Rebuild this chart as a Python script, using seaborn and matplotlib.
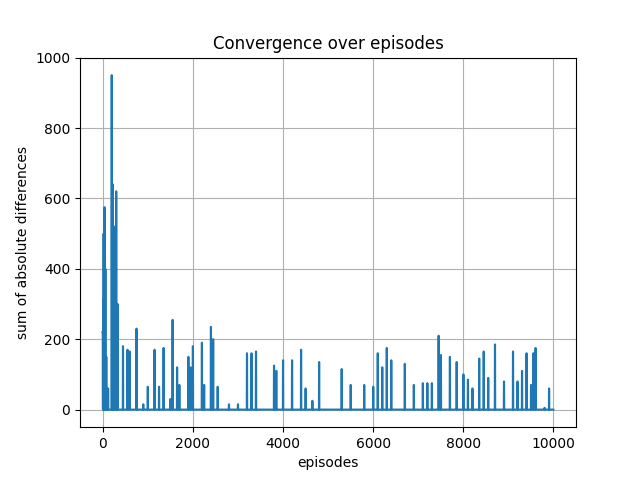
import numpy as np
import pandas as pd
import matplotlib
matplotlib.use("Agg")
import matplotlib.pyplot as plt
import seaborn as sns

n_episodes = 10000
spike_episodes = [0, 10, 20, 40, 60, 80, 120, 200, 220, 250, 300, 330, 450, 550, 600, 750, 900, 1000,
                  1150, 1250, 1350, 1500, 1550, 1650, 1700, 1900, 1950, 2000, 2200, 2250, 2400, 2450,
                  2550, 2800, 3000, 3200, 3300, 3400, 3800, 3850, 4000, 4200, 4400, 4500, 4650, 4800,
                  5300, 5500, 5800, 6000, 6100, 6200, 6300, 6400, 6700, 6900, 7100, 7200, 7300, 7450,
                  7500, 7700, 7850, 8000, 8100, 8200, 8350, 8450, 8550, 8700, 8900, 9100, 9200, 9300,
                  9400, 9500, 9550, 9600, 9800, 9900]
spike_heights = [220, 310, 500, 575, 400, 150, 60, 950, 640, 520, 620, 300, 180, 170, 165, 230, 15, 65,
                 170, 65, 175, 30, 255, 120, 70, 150, 120, 180, 190, 70, 235, 200,
                 65, 15, 15, 160, 160, 165, 125, 110, 140, 140, 170, 60, 25, 135,
                 115, 70, 70, 65, 160, 120, 175, 140, 130, 70, 75, 75, 75, 210,
                 155, 150, 135, 100, 85, 60, 145, 165, 90, 185, 80, 165, 80, 110,
                 160, 70, 160, 175, 5, 60]
spike_width = 6

diffs = np.zeros(n_episodes)
for ep, h in zip(spike_episodes, spike_heights):
    diffs[ep:ep + spike_width] = np.maximum(diffs[ep:ep + spike_width], h)
df = pd.DataFrame({"episodes": np.arange(n_episodes), "diff": diffs})

fig, ax = plt.subplots(figsize=(6.4, 4.8), dpi=100)
sns.lineplot(data=df, x="episodes", y="diff", ax=ax, color="#1f77b4", linewidth=1.5)
ax.set_title("Convergence over episodes")
ax.set_xlabel("episodes")
ax.set_ylabel("sum of absolute differences")
ax.set_ylim(-50, 1000)
ax.set_xlim(-500, 10500)
ax.grid(True)
fig.savefig("out.png", dpi=100)
